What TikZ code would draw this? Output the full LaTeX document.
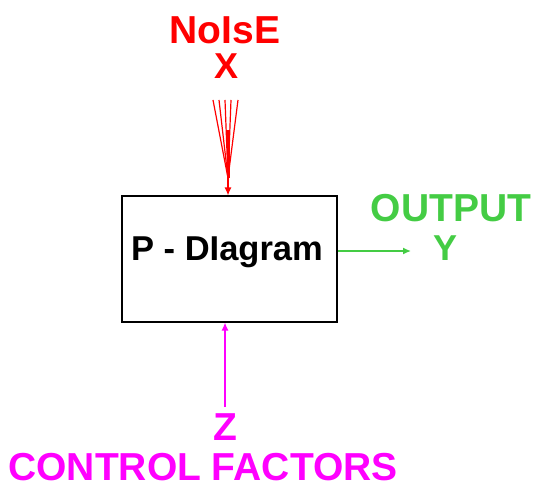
\documentclass[tikz,border=0pt]{standalone}
\usepackage{fontspec}
\setmainfont{Liberation Sans}
\usetikzlibrary{arrows.meta}
\definecolor{noisered}{RGB}{255,0,0}
\definecolor{outgreen}{RGB}{68,204,68}
\definecolor{ctrlmag}{RGB}{255,0,255}
\tikzset{
  lbl/.style={font=\fontsize{39}{40}\selectfont\bfseries, inner sep=0pt, anchor=center},
  sym/.style={font=\fontsize{36}{37}\selectfont\bfseries, inner sep=0pt, anchor=center},
  conn/.style={line width=1.4pt, -{Latex[length=8pt,width=7pt]}},
}
\begin{document}
\begin{tikzpicture}[x=1pt,y=-1pt]
\useasboundingbox (0,0) rectangle (538,489);
\node[draw=black, line width=2pt, minimum width=215pt, minimum height=125pt, inner sep=0pt] (box) at (229.5,259) {};
\node[font=\fontsize{34.5}{35}\selectfont\bfseries, inner sep=0pt] (boxtext) at (227,252) {P - DIagram};
% noise
\node[lbl, text=noisered] (noise) at (225,30) {NoIsE};
\node[sym, text=noisered] (x) at (227,66) {X};
\coordinate (n1) at (213,100);
\coordinate (n2) at (219,100);
\coordinate (n3) at (225,100);
\coordinate (n4) at (231,100);
\coordinate (n5) at (238,100);
\coordinate (nc) at (228,178);
\foreach \p in {n1,n2,n3,n4,n5} \draw[noisered, line width=1.2pt] (\p) -- (nc);
\draw[noisered, line width=3pt] (228,130) -- (nc);
\draw[noisered, conn] (nc) -- (box.north -| nc);
% output
\node[lbl, text=outgreen] (out) at (451,208) {OUTPUT};
\node[sym, text=outgreen] (y) at (446,248) {Y};
\coordinate (oe) at (411,251);
\draw[outgreen, conn] (box.east |- oe) -- (oe);
% control
\node[lbl, text=ctrlmag] (z) at (225,427) {Z};
\node[lbl, text=ctrlmag] (ctrl) at (203,467) {CONTROL FACTORS};
\coordinate (cs) at (225,407);
\draw[ctrlmag, conn] (cs) -- (box.south -| cs);
\end{tikzpicture}
\end{document}
